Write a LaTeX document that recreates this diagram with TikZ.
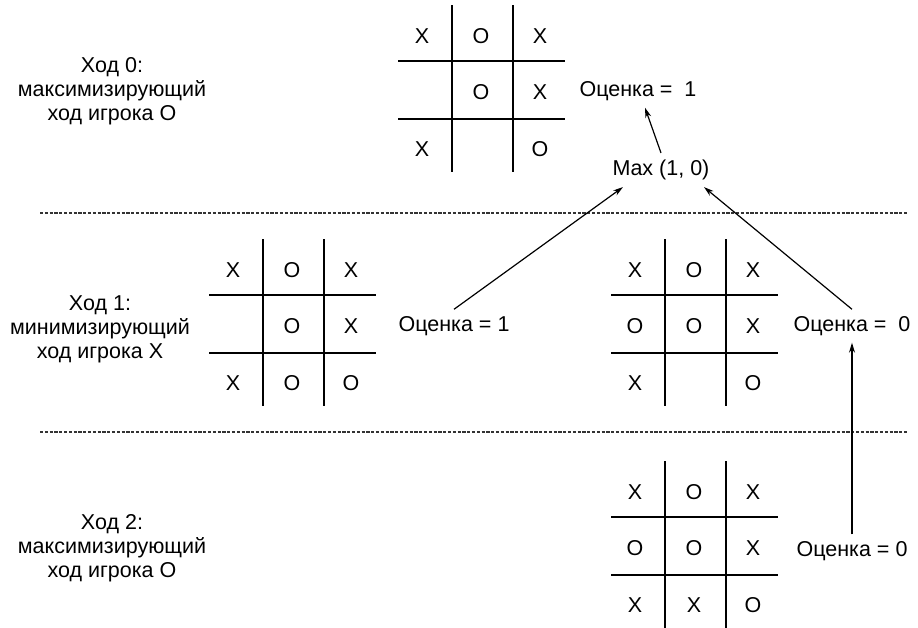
\documentclass[tikz,border=0pt]{standalone}
\usepackage{fontspec}
\setmainfont{Liberation Sans}
\usetikzlibrary{arrows.meta}

\tikzset{
  gridline/.style={line width=1.3pt},
  markcell/.style={font=\fontsize{10.75}{12}\selectfont},
  movetext/.style={align=center, font=\fontsize{10.75}{12}\selectfont},
  scoretext/.style={font=\fontsize{10.75}{12}\selectfont},
  sepline/.style={line width=0.6pt, black!80, dash pattern=on 1.6pt off 0.8pt},
  link/.style={-{Stealth[length=5pt,width=3pt]}, line width=0.6pt}
}

% board: name, left, top, marks row by row
\newcommand{\tttboard}[4]{%
  \draw[gridline] (#2+54,#3) -- (#2+54,#3+167);
  \draw[gridline] (#2+115,#3) -- (#2+115,#3+167);
  \draw[gridline] (#2,#3+56) -- (#2+167,#3+56);
  \draw[gridline] (#2,#3+114) -- (#2+167,#3+114);
  \foreach \m [count=\i from 0] in {#4} {
    \pgfmathtruncatemacro\c{mod(\i,3)}
    \pgfmathtruncatemacro\r{int(\i/3)}
    \node[markcell] (#1-\i) at (#2+24+59*\c,#3+31+56.5*\r) {\m};
  }%
}

\begin{document}
\begin{tikzpicture}[x=0.5pt,y=-0.5pt]
\useasboundingbox (0,0) rectangle (918,628);
% the three moves
\node[movetext] (move0) at (112,91) {Ход 0:\\максимизирующий\\ход игрока О};
\node[movetext] (move1) at (100,329) {Ход 1:\\минимизирующий\\ход игрока Х};
\node[movetext] (move2) at (112,548) {Ход 2:\\максимизирующий\\ход игрока О};
% separators
\draw[sepline] (40,213) -- (908,213);
\draw[sepline] (40,432) -- (908,432);
% boards
\tttboard{top}{398}{5}{X,O,X,{},O,X,X,{},O}
\tttboard{left}{209}{239}{X,O,X,{},O,X,X,O,O}
\tttboard{right}{611}{239}{X,O,X,O,O,X,X,{},O}
\tttboard{low}{611}{461}{X,O,X,O,O,X,X,X,O}
% scores
\node[scoretext] (score0) at (638,91) {Оценка =~~1};
\node[scoretext] (max) at (661,170) {Max (1, 0)};
\node[scoretext] (scoreL) at (454,326) {Оценка = 1};
\node[scoretext] (scoreR) at (852,326) {Оценка =~~0};
\node[scoretext] (score2) at (852,551) {Оценка = 0};
% arrows
\draw[link] (max.north) -- ([xshift=3.5pt]score0.south);
\draw[link] (scoreL.north) -- ([xshift=-19pt]max.south);
\draw[link] (scoreR.north) -- ([xshift=21.5pt]max.south);
\draw[link] (score2.north) -- (scoreR.south);
\end{tikzpicture}
\end{document}
